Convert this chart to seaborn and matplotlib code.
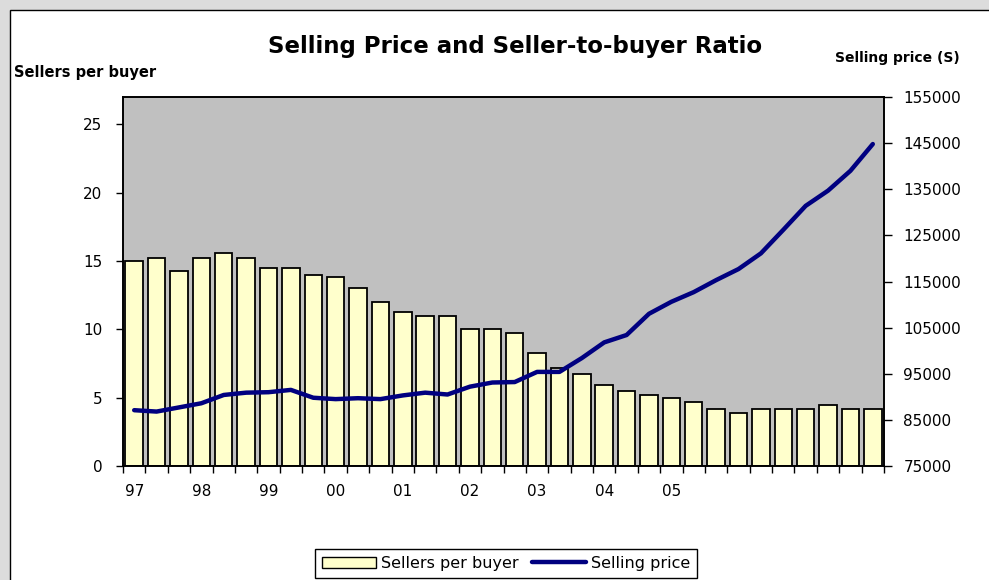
import matplotlib
matplotlib.use("Agg")
import matplotlib.pyplot as plt
import seaborn as sns
import pandas as pd
import numpy as np
from matplotlib.patches import Rectangle, Patch
from matplotlib.lines import Line2D

# ---- data ----
x_labels = ["97", "", "", "98", "", "", "99", "", "", "00", "", "",
            "01", "", "", "02", "", "", "03", "", "", "04", "", "",
            "05", "", "", "", "", "", "", "", "", ""]
sellers_per_buyer = [15.0, 15.2, 14.3, 15.2, 15.6, 15.2, 14.5, 14.5, 14.0, 13.8,
                     13.0, 12.0, 11.3, 11.0, 11.0, 10.0, 10.0, 9.75, 8.3, 7.2,
                     6.7, 5.9, 5.5, 5.2, 5.0, 4.7, 4.2, 3.9, 4.2, 4.2,
                     4.2, 4.5, 4.2, 4.2]
selling_price = [87100, 86800, 87700, 88600, 90400, 90900, 91000, 91500, 89800, 89500,
                 89700, 89500, 90300, 90900, 90500, 92200, 93100, 93200, 95400, 95400,
                 98400, 101800, 103400, 108000, 110600, 112700, 115300, 117700, 121100, 126200,
                 131400, 134700, 139000, 144800]
left_ticks = [0, 5, 10, 15, 20, 25]
right_ticks = [75000, 85000, 95000, 105000, 115000, 125000, 135000, 145000, 155000]

df = pd.DataFrame({"period": np.arange(len(sellers_per_buyer)),
                   "sellers": sellers_per_buyer,
                   "price": selling_price})

sns.set_theme(style="white")
plt.rcParams["font.family"] = ["DejaVu Sans"]
plt.rcParams["text.color"] = "black"

W, H = 989, 580
fig = plt.figure(figsize=(W / 100, H / 100), dpi=100, facecolor="#DCDCDC")
fig.patches.append(Rectangle((10 / W, -0.05), 1.1, (H - 10) / H + 0.05,
                             transform=fig.transFigure, facecolor="white",
                             edgecolor="black", linewidth=1.0, zorder=-10))

ax = fig.add_axes([123 / W, (H - 466) / H, 761 / W, 369 / H])
ax.set_facecolor("#C0C0C0")

sns.barplot(data=df, x="period", y="sellers", color="#FFFFCC", saturation=1,
            edgecolor="black", linewidth=1.3, width=0.78, ax=ax)

ax2 = ax.twinx()
sns.lineplot(data=df, x="period", y="price", color="#000080", linewidth=3.2,
             ax=ax2, solid_capstyle="round")

ax.set_xlim(-0.5, len(x_labels) - 0.5)
ax.set_ylim(0, 27)
ax2.set_ylim(75000, 155000)

# x ticks: marks at boundaries, labels at centers
ax.set_xticks(np.arange(-0.5, len(x_labels), 1.0))
ax.set_xticklabels([])
ax.set_xticks(np.arange(len(x_labels)), minor=True)
ax.set_xticklabels(x_labels, minor=True)
ax.tick_params(axis="x", which="major", direction="out", length=5, width=1,
               color="black", bottom=True)
ax.tick_params(axis="x", which="minor", length=0, labelsize=11, pad=13,
               labelcolor="black")

ax.set_yticks(left_ticks)
ax.set_yticklabels([str(v) for v in left_ticks])
ax.tick_params(axis="y", direction="out", length=5, width=1, color="black",
               left=True, labelsize=11, pad=10, labelcolor="black")

ax2.set_yticks(right_ticks)
ax2.set_yticklabels([str(v) for v in right_ticks])
ax2.tick_params(axis="y", direction="out", length=6, width=1, color="black",
                right=True, labelsize=11, pad=8, labelcolor="black")

for a in (ax, ax2):
    a.set_xlabel("")
    a.set_ylabel("")
    for s in a.spines.values():
        s.set_color("black")
        s.set_linewidth(1.2)

fig.text(515.5 / W, 1 - 53 / H, "Selling Price and Seller-to-buyer Ratio",
         ha="center", va="baseline", fontsize=16.5, fontweight="bold", color="black")
fig.text(14 / W, 1 - 77 / H, "Sellers per buyer", ha="left", va="baseline",
         fontsize=10.5, fontweight="bold", color="black")
fig.text(835 / W, 1 - 62 / H, "Selling price (S)", ha="left", va="baseline",
         fontsize=10, fontweight="bold", color="black")

handles = [Patch(facecolor="#FFFFCC", edgecolor="black", linewidth=1.0),
           Line2D([0], [0], color="#000080", linewidth=3.2)]
leg = fig.legend(handles, ["Sellers per buyer", "Selling price"], ncol=2,
                 loc="center", bbox_to_anchor=(506 / W, 1 - 563.5 / H),
                 fontsize=11.5, frameon=True, fancybox=False, framealpha=1,
                 edgecolor="black", handlelength=3.4, handleheight=0.7,
                 handletextpad=0.3, columnspacing=0.8, borderpad=0.45)
leg.get_frame().set_linewidth(1.0)
for t in leg.get_texts():
    t.set_color("black")

fig.savefig("out.png", dpi=100, facecolor=fig.get_facecolor())
